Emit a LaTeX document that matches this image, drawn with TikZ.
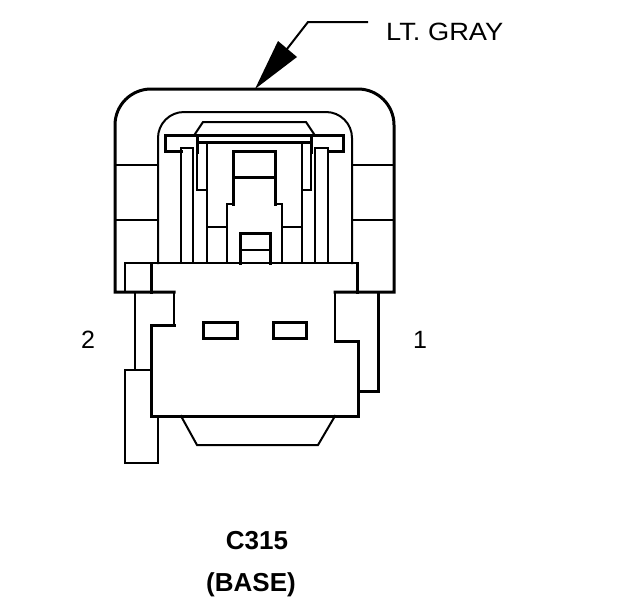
\documentclass[tikz,border=0pt]{standalone}
\usepackage{fontspec}
\setmainfont{Liberation Sans}
\begin{document}
\begin{tikzpicture}[x=1pt, y=-1pt, line join=miter, line cap=rect]

  \tikzset{
    thinpart/.style={draw=black, line width=2pt},
    thickpart/.style={draw=black, line width=3pt},
    label/.style={inner sep=0, font=\fontsize{25}{25}\selectfont},
    caption/.style={inner sep=0, font=\fontsize{26}{26}\selectfont\bfseries}
  }

  \useasboundingbox (0,0) rectangle (624,600);

  % housing
  \draw [thickpart] (174,292) -- (115,292) -- (115,125)
    arc [start angle=180, end angle=270, radius=36] -- (358,89)
    arc [start angle=270, end angle=360, radius=36] -- (394,292) -- (335,292);
  \draw [thinpart] (158,263) -- (158,138)
    arc [start angle=180, end angle=270, radius=26] -- (326,112)
    arc [start angle=270, end angle=360, radius=26] -- (352,263);
  \foreach \y in {165,220} {
    \draw [thinpart] (115,\y) -- (158,\y);
    \draw [thinpart] (352,\y) -- (394,\y);
  }

  % latch
  \draw [thickpart] (181,151) -- (165,151) -- (165,135) -- (343,135) -- (343,151) -- (328,151);
  \draw [thinpart] (195,134) -- (203,122) -- (306,122) -- (314,134);
  \draw [thickpart] (197,142) -- (311,142);
  \draw [thinpart] (181,263) -- (181,148) -- (193,148) -- (193,263);
  \draw [thinpart] (315,263) -- (315,148) -- (328,148) -- (328,263);
  \draw [thickpart] (197,135) -- (197,152);
  \draw [thickpart] (311,135) -- (311,152);
  \draw [thinpart] (197,152) -- (197,190) -- (207,190);
  \draw [thinpart] (311,152) -- (311,190) -- (302,190);
  \draw [thinpart] (207,142) -- (207,263);
  \draw [thinpart] (302,142) -- (302,263);

  % center post
  \draw [thickpart] (233,204) -- (233,151) -- (275,151) -- (275,204);
  \draw [thickpart] (233,177) -- (275,177);
  \draw [thinpart] (233,204) -- (227,204) -- (227,263);
  \draw [thinpart] (275,204) -- (282,204) -- (282,263);
  \draw [thinpart] (207,227) -- (227,227);
  \draw [thinpart] (282,227) -- (302,227);
  \draw [thickpart] (240,263) -- (240,233) -- (270,233) -- (270,263);
  \draw [thinpart] (240,250) -- (270,250);

  % base
  \draw [thinpart] (125,292) -- (125,263) -- (357,263);
  \draw [thickpart] (151,263) -- (151,292);
  \draw [thickpart] (357,263) -- (357,292);
  \draw [thinpart] (174,292) -- (174,325);
  \draw [thickpart] (174,325) -- (151,325) -- (151,416) -- (358,416) -- (358,341) -- (335,341);
  \draw [thinpart] (335,341) -- (335,292);
  \draw [thickpart] (203,322) rectangle (237,338);
  \draw [thickpart] (273,322) rectangle (306,338);
  \draw [thinpart] (181,416) -- (197,445) -- (318,445) -- (335,416);

  % side tabs
  \draw [thinpart] (135,292) -- (135,370);
  \draw [thinpart] (151,370) -- (125,370) -- (125,463) -- (158,463) -- (158,416);
  \draw [thickpart] (378,292) -- (378,391) -- (358,391);

  % labels
  \node [label, anchor=west, xscale=1.09] (gray) at (386,32) {LT. GRAY};
  \node [label] (pin2) at (88,340) {2};
  \node [label] (pin1) at (420,340) {1};
  \node [caption] (name) at (257,541) {C315};
  \node [caption] (view) at (251,585) {(BASE)};

  % leader
  \coordinate (tip) at (255,89);
  \coordinate (start) at (367,22);
  \coordinate (bend) at (308,22);
  \draw [thinpart] (start) -- (bend) -- (287,49);
  \fill [black] (tip) -- (278,41) -- (297,57) -- cycle;

\end{tikzpicture}
\end{document}
